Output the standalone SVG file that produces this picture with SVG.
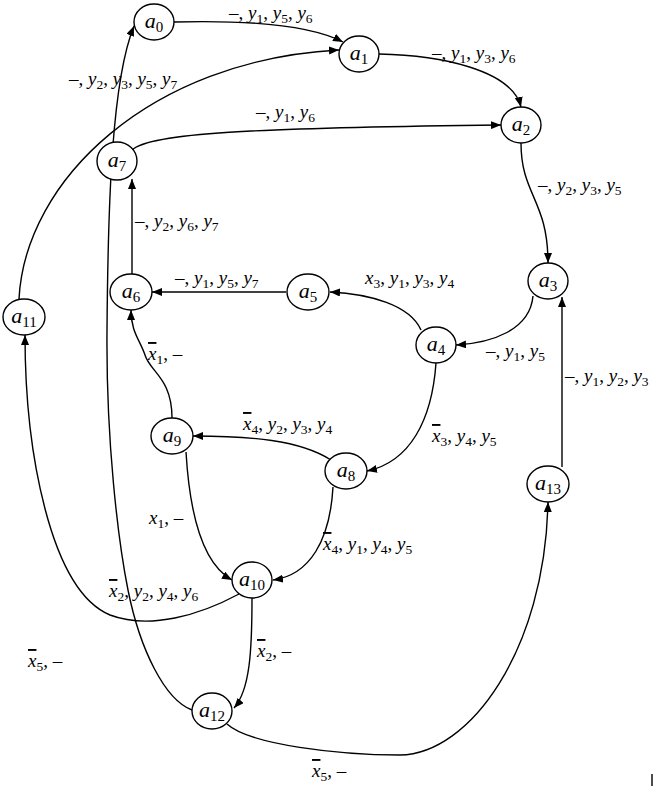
<svg xmlns="http://www.w3.org/2000/svg" width="654" height="786" viewBox="0 0 654 786" font-family="'Liberation Serif', 'DejaVu Serif', serif">
<defs>
<marker id="arr" viewBox="0 0 10 8" refX="10" refY="4" markerWidth="10" markerHeight="8" markerUnits="userSpaceOnUse" orient="auto">
<path d="M0,0 L10,4 L0,8 Z" fill="#000"/>
</marker>
<style>
.node ellipse{fill:#fff;stroke:#000;stroke-width:1.4}
.node text{font-size:22px;text-anchor:middle}
.e{fill:none;stroke:#000;stroke-width:1.4;marker-end:url(#arr)}
.ln{fill:none;stroke:#000;stroke-width:1.4}
.lbl{font-size:19px;fill:#000}
.i{font-style:italic}
.s{font-size:13.5px}
.node .s{font-size:15px}
.ov{text-decoration:overline}
</style>
</defs>
<rect width="654" height="786" fill="#fff"/>
<g id="connectors">
<path class="e" d="M174,22 C250,20 310,25 343,42"/>
<path class="e" d="M19,299 C25,180 150,60 339,50"/>
<path class="e" d="M132,150 C150,133 250,128 501,125"/>
<path class="e" d="M379,54 C440,55 512,70 521,107"/>
<path class="e" d="M521,143 C521,195 548,200 548,263"/>
<path class="e" d="M533,296 C530,330 492,343 456,345"/>
<path class="e" d="M421,330 C410,305 370,294 330,292"/>
<path class="e" d="M286,292 L152,292"/>
<path class="e" d="M132,275 L132,179"/>
<path class="e" d="M172,418 C172,378 150,372 145,355 C140,340 131,332 131,310"/>
<path class="e" d="M331,460 C300,440 250,436 193,436"/>
<path class="e" d="M436,363 C432,420 410,462 367,471"/>
<path class="e" d="M186,452 C190,520 205,565 232,580"/>
<path class="e" d="M333,487 C330,540 310,575 273,580"/>
<path class="e" d="M562,467 L562,297"/>
<path class="e" d="M227,724 C250,745 340,755 400,755 C470,754 545,650 548,502"/>
<path class="e" d="M252,598 C252,650 250,690 234,708"/>
<path class="e" d="M239,594 C200,615 150,630 110,615 C50,590 25,450 25,335"/>
<path class="e" d="M192,710 C165,700 140,650 128,590 C118,540 106,440 107,330 C108,200 112,80 134,26"/>
<path class="ln" d="M652,774 L652,786"/>
</g>
<g id="a0" class="node"><ellipse cx="154" cy="22" rx="20" ry="18"/><text x="154" y="28"><tspan class="i">a</tspan><tspan class="s" dy="4">0</tspan></text></g>
<g id="a1" class="node"><ellipse cx="359" cy="54" rx="20" ry="18"/><text x="359" y="60"><tspan class="i">a</tspan><tspan class="s" dy="4">1</tspan></text></g>
<g id="a2" class="node"><ellipse cx="521" cy="125" rx="20" ry="18"/><text x="521" y="131"><tspan class="i">a</tspan><tspan class="s" dy="4">2</tspan></text></g>
<g id="a3" class="node"><ellipse cx="548" cy="281" rx="20" ry="18"/><text x="548" y="287"><tspan class="i">a</tspan><tspan class="s" dy="4">3</tspan></text></g>
<g id="a4" class="node"><ellipse cx="436" cy="345" rx="20" ry="18"/><text x="436" y="351"><tspan class="i">a</tspan><tspan class="s" dy="4">4</tspan></text></g>
<g id="a5" class="node"><ellipse cx="308" cy="292" rx="21" ry="18"/><text x="308" y="298"><tspan class="i">a</tspan><tspan class="s" dy="4">5</tspan></text></g>
<g id="a6" class="node"><ellipse cx="131" cy="292" rx="21" ry="18"/><text x="131" y="298"><tspan class="i">a</tspan><tspan class="s" dy="4">6</tspan></text></g>
<g id="a7" class="node"><ellipse cx="117" cy="161" rx="20" ry="19"/><text x="117" y="167"><tspan class="i">a</tspan><tspan class="s" dy="4">7</tspan></text></g>
<g id="a8" class="node"><ellipse cx="346" cy="471" rx="21" ry="18"/><text x="346" y="477"><tspan class="i">a</tspan><tspan class="s" dy="4">8</tspan></text></g>
<g id="a9" class="node"><ellipse cx="172" cy="436" rx="21" ry="18"/><text x="172" y="442"><tspan class="i">a</tspan><tspan class="s" dy="4">9</tspan></text></g>
<g id="a10" class="node"><ellipse cx="252" cy="580" rx="20" ry="18"/><text x="252" y="586"><tspan class="i">a</tspan><tspan class="s" dy="4">10</tspan></text></g>
<g id="a11" class="node"><ellipse cx="24" cy="317" rx="21" ry="18"/><text x="24" y="323"><tspan class="i">a</tspan><tspan class="s" dy="4">11</tspan></text></g>
<g id="a12" class="node"><ellipse cx="212" cy="711" rx="20" ry="18"/><text x="212" y="717"><tspan class="i">a</tspan><tspan class="s" dy="4">12</tspan></text></g>
<g id="a13" class="node"><ellipse cx="548" cy="484" rx="21" ry="18"/><text x="548" y="490"><tspan class="i">a</tspan><tspan class="s" dy="4">13</tspan></text></g>
<g id="labels" class="lbl">
<text x="229" y="19">–, <tspan class="i">y</tspan><tspan class="s" dy="4">1</tspan><tspan dy="-4">, </tspan><tspan class="i">y</tspan><tspan class="s" dy="4">5</tspan><tspan dy="-4">, </tspan><tspan class="i">y</tspan><tspan class="s" dy="4">6</tspan></text>
<text x="69" y="85">–, <tspan class="i">y</tspan><tspan class="s" dy="4">2</tspan><tspan dy="-4">, </tspan><tspan class="i">y</tspan><tspan class="s" dy="4">3</tspan><tspan dy="-4">, </tspan><tspan class="i">y</tspan><tspan class="s" dy="4">5</tspan><tspan dy="-4">, </tspan><tspan class="i">y</tspan><tspan class="s" dy="4">7</tspan></text>
<text x="256" y="118">–, <tspan class="i">y</tspan><tspan class="s" dy="4">1</tspan><tspan dy="-4">, </tspan><tspan class="i">y</tspan><tspan class="s" dy="4">6</tspan></text>
<text x="432" y="59">–, <tspan class="i">y</tspan><tspan class="s" dy="4">1</tspan><tspan dy="-4">, </tspan><tspan class="i">y</tspan><tspan class="s" dy="4">3</tspan><tspan dy="-4">, </tspan><tspan class="i">y</tspan><tspan class="s" dy="4">6</tspan></text>
<text x="538" y="191">–, <tspan class="i">y</tspan><tspan class="s" dy="4">2</tspan><tspan dy="-4">, </tspan><tspan class="i">y</tspan><tspan class="s" dy="4">3</tspan><tspan dy="-4">, </tspan><tspan class="i">y</tspan><tspan class="s" dy="4">5</tspan></text>
<text x="486" y="357">–, <tspan class="i">y</tspan><tspan class="s" dy="4">1</tspan><tspan dy="-4">, </tspan><tspan class="i">y</tspan><tspan class="s" dy="4">5</tspan></text>
<text x="365" y="284"><tspan class="i">x</tspan><tspan class="s" dy="4">3</tspan><tspan dy="-4">, </tspan><tspan class="i">y</tspan><tspan class="s" dy="4">1</tspan><tspan dy="-4">, </tspan><tspan class="i">y</tspan><tspan class="s" dy="4">3</tspan><tspan dy="-4">, </tspan><tspan class="i">y</tspan><tspan class="s" dy="4">4</tspan></text>
<text x="175" y="284">–, <tspan class="i">y</tspan><tspan class="s" dy="4">1</tspan><tspan dy="-4">, </tspan><tspan class="i">y</tspan><tspan class="s" dy="4">5</tspan><tspan dy="-4">, </tspan><tspan class="i">y</tspan><tspan class="s" dy="4">7</tspan></text>
<text x="135" y="227">–, <tspan class="i">y</tspan><tspan class="s" dy="4">2</tspan><tspan dy="-4">, </tspan><tspan class="i">y</tspan><tspan class="s" dy="4">6</tspan><tspan dy="-4">, </tspan><tspan class="i">y</tspan><tspan class="s" dy="4">7</tspan></text>
<text x="148" y="360"><tspan class="i ov">x</tspan><tspan class="s" dy="4">1</tspan><tspan dy="-4">, –</tspan></text>
<text x="243" y="430"><tspan class="i ov">x</tspan><tspan class="s" dy="4">4</tspan><tspan dy="-4">, </tspan><tspan class="i">y</tspan><tspan class="s" dy="4">2</tspan><tspan dy="-4">, </tspan><tspan class="i">y</tspan><tspan class="s" dy="4">3</tspan><tspan dy="-4">, </tspan><tspan class="i">y</tspan><tspan class="s" dy="4">4</tspan></text>
<text x="432" y="442"><tspan class="i ov">x</tspan><tspan class="s" dy="4">3</tspan><tspan dy="-4">, </tspan><tspan class="i">y</tspan><tspan class="s" dy="4">4</tspan><tspan dy="-4">, </tspan><tspan class="i">y</tspan><tspan class="s" dy="4">5</tspan></text>
<text x="149" y="524"><tspan class="i">x</tspan><tspan class="s" dy="4">1</tspan><tspan dy="-4">, –</tspan></text>
<text x="323" y="550"><tspan class="i ov">x</tspan><tspan class="s" dy="4">4</tspan><tspan dy="-4">, </tspan><tspan class="i">y</tspan><tspan class="s" dy="4">1</tspan><tspan dy="-4">, </tspan><tspan class="i">y</tspan><tspan class="s" dy="4">4</tspan><tspan dy="-4">, </tspan><tspan class="i">y</tspan><tspan class="s" dy="4">5</tspan></text>
<text x="565" y="382">–, <tspan class="i">y</tspan><tspan class="s" dy="4">1</tspan><tspan dy="-4">, </tspan><tspan class="i">y</tspan><tspan class="s" dy="4">2</tspan><tspan dy="-4">, </tspan><tspan class="i">y</tspan><tspan class="s" dy="4">3</tspan></text>
<text x="109" y="597"><tspan class="i ov">x</tspan><tspan class="s" dy="4">2</tspan><tspan dy="-4">, </tspan><tspan class="i">y</tspan><tspan class="s" dy="4">2</tspan><tspan dy="-4">, </tspan><tspan class="i">y</tspan><tspan class="s" dy="4">4</tspan><tspan dy="-4">, </tspan><tspan class="i">y</tspan><tspan class="s" dy="4">6</tspan></text>
<text x="28" y="667"><tspan class="i ov">x</tspan><tspan class="s" dy="4">5</tspan><tspan dy="-4">, –</tspan></text>
<text x="257" y="657"><tspan class="i ov">x</tspan><tspan class="s" dy="4">2</tspan><tspan dy="-4">, –</tspan></text>
<text x="312" y="777"><tspan class="i ov">x</tspan><tspan class="s" dy="4">5</tspan><tspan dy="-4">, –</tspan></text>
</g>
</svg>
